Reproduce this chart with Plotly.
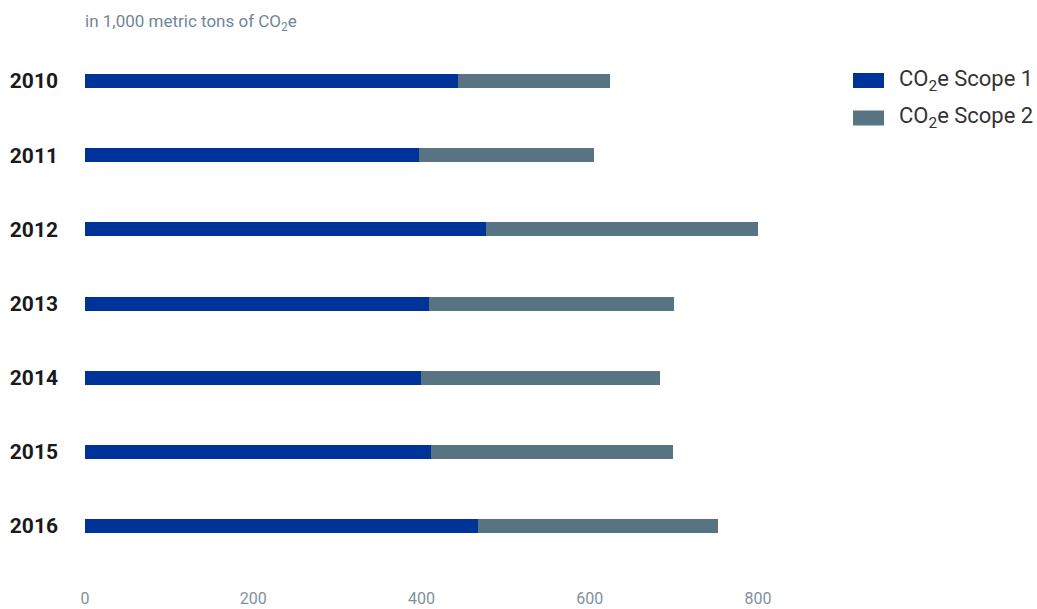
import plotly.graph_objects as go

# Emissions by year, in 1,000 metric tons of CO2e
years = ["2010", "2011", "2012", "2013", "2014", "2015", "2016"]
scope1 = [443, 397, 477, 409, 399, 411, 467]
scope2 = [181, 208, 324, 291, 284, 288, 285]
x_ticks = [0, 200, 400, 600, 800]

series_names = ["CO<sub>2</sub>e Scope 1", "CO<sub>2</sub>e Scope 2"]
colors = ["#003399", "#587482"]

# Plot area in pixels (left, right, top, bottom)
L, R, T, B = 85, 758, 44, 585
W, H = R - L, B - T
ROW = 74.17  # pixels per category row


def px_x(x):
    return (x - L) / W


def px_y(y):
    return (B - y) / H


fig = go.Figure()
for name, vals, col in zip(series_names, [scope1, scope2], colors):
    fig.add_trace(go.Bar(
        y=years, x=vals, name=name, orientation="h",
        marker=dict(color=col, line=dict(width=0)),
        width=0.19, showlegend=False,
    ))

# Custom legend: wide swatches with labels
legend_y = [80.5, 118]
for y, name, col in zip(legend_y, series_names, colors):
    fig.add_shape(type="rect", xref="paper", yref="paper",
                  x0=px_x(853), x1=px_x(884),
                  y0=px_y(y + 7.5), y1=px_y(y - 7.5),
                  fillcolor=col, line=dict(width=0))
    fig.add_annotation(text=name, xref="paper", yref="paper",
                       x=px_x(897), y=px_y(y),
                       xanchor="left", yanchor="middle", showarrow=False,
                       font=dict(family="Roboto", size=22, color="#333333"))

fig.add_annotation(text="in 1,000 metric tons of CO<sub>2</sub>e",
                   xref="paper", yref="paper", x=px_x(83), y=px_y(23),
                   xanchor="left", yanchor="middle", showarrow=False,
                   font=dict(family="Roboto", size=17, color="#6f8796"))

fig.update_layout(
    barmode="stack",
    width=1037, height=609,
    margin=dict(l=L, r=1037 - R, t=T, b=609 - B, autoexpand=False),
    paper_bgcolor="white", plot_bgcolor="white",
    font=dict(family="Roboto"),
    xaxis=dict(range=[0, 800], tickvals=x_ticks, showgrid=False,
               zeroline=False, showline=False, automargin=False,
               tickfont=dict(size=16, color="#7f919c"), ticklabelstandoff=2),
    yaxis=dict(categoryorder="array", categoryarray=years,
               range=[-0.5 + H / ROW, -0.5], showgrid=False, zeroline=False,
               showline=False, automargin=False, ticklabelstandoff=26,
               tickfont=dict(size=21, color="#1a1a1a", weight="bold")),
)

fig.write_html("out.html")
